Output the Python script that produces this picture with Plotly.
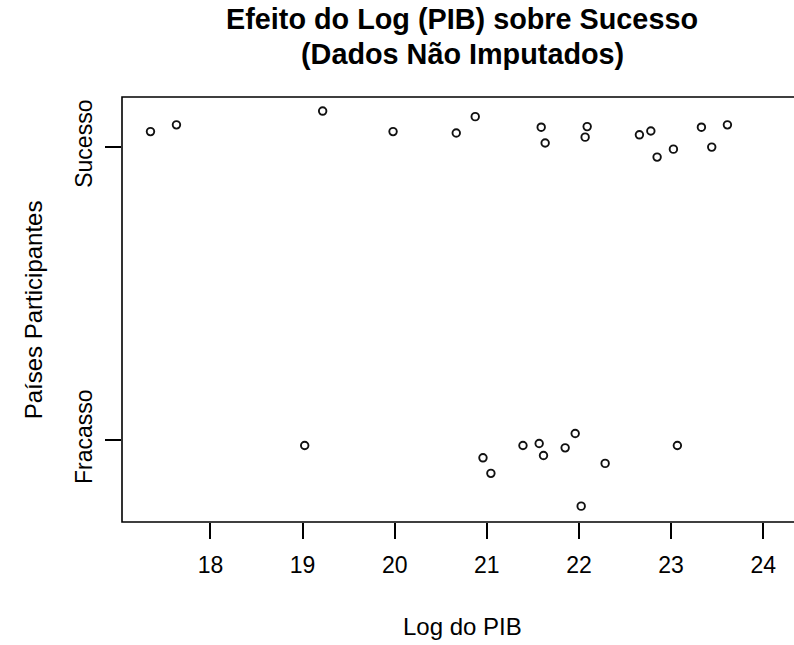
import plotly.graph_objects as go

# Log do PIB e posição vertical (0 = Fracasso, 1 = Sucesso, com jitter) de cada país
log_pib_sucesso = [17.349, 17.631, 19.218, 19.982, 20.668, 20.874, 21.590, 21.633,
                   22.089, 22.067, 22.656, 22.780, 22.848, 23.025, 23.329, 23.441, 23.611]
y_sucesso = [1.053, 1.076, 1.123, 1.053, 1.048, 1.104, 1.068, 1.014,
             1.070, 1.034, 1.042, 1.055, 0.966, 0.993, 1.068, 1.000, 1.076]

log_pib_fracasso = [19.023, 20.958, 21.044, 21.392, 21.568, 21.615, 21.850,
                    21.959, 22.284, 22.024, 23.068]
y_fracasso = [-0.018, -0.060, -0.113, -0.018, -0.011, -0.052, -0.026,
              0.023, -0.079, -0.225, -0.018]

x_ticks = [18, 19, 20, 21, 22, 23, 24]
y_ticks = [0, 1]
y_tick_labels = ["Fracasso", "Sucesso"]

titulo = ["Efeito do Log (PIB) sobre Sucesso", "(Dados Não Imputados)"]
rotulo_x = "Log do PIB"
rotulo_y = "Países Participantes"

FONT = "Liberation Sans, Arial, sans-serif"
W, H = 794, 645
ML, MR, MT, MB = 121.5, 0, 97, 122.5
PW, PH = W - ML - MR, H - MT - MB


def px_x(px):
    return (px - ML) / PW


def px_y(py):
    return (H - MB - py) / PH


fig = go.Figure()
marker = dict(symbol="circle-open", size=7.5, color="#111111", line=dict(width=1.9, color="#111111"))
fig.add_trace(go.Scatter(x=log_pib_sucesso + log_pib_fracasso,
                         y=y_sucesso + y_fracasso,
                         mode="markers", marker=marker, showlegend=False,
                         hoverinfo="x"))

fig.update_layout(
    width=W, height=H,
    margin=dict(l=ML, r=MR, t=MT, b=MB, pad=0),
    plot_bgcolor="white", paper_bgcolor="white",
    font=dict(family=FONT, color="black", size=24),
)

fig.update_xaxes(
    range=[17.04, 17.04 + PW / 92.2],
    tickvals=x_ticks, ticktext=[str(v) for v in x_ticks],
    ticks="outside", ticklen=16, tickwidth=1.5, tickcolor="black",
    showline=False, showgrid=False, zeroline=False,
    tickfont=dict(size=23, family=FONT), ticklabelstandoff=6,
)
fig.update_yaxes(
    range=[-0.279, 1.171],
    tickvals=y_ticks, ticktext=y_tick_labels, tickangle=-90,
    ticks="outside", ticklen=16, tickwidth=1.5, tickcolor="black",
    showline=False, showgrid=False, zeroline=False,
    tickfont=dict(size=23, family=FONT), ticklabelstandoff=4,
)

# Moldura do gráfico (o lado direito fica fora da área visível)
fig.add_shape(type="rect", xref="paper", yref="paper", x0=0, x1=1.1, y0=0, y1=1,
              line=dict(color="black", width=1.6), layer="above")

fig.add_annotation(text=f"<b>{titulo[0]}</b>", x=px_x(462), y=px_y(19), xref="paper", yref="paper",
                   showarrow=False, xanchor="center", yanchor="middle",
                   font=dict(size=28.8, family=FONT))
fig.add_annotation(text=f"<b>{titulo[1]}</b>", x=px_x(462), y=px_y(54), xref="paper", yref="paper",
                   showarrow=False, xanchor="center", yanchor="middle",
                   font=dict(size=28.8, family=FONT))
fig.add_annotation(text=rotulo_x, x=px_x(462), y=px_y(627), xref="paper", yref="paper",
                   showarrow=False, xanchor="center", yanchor="middle",
                   font=dict(size=24, family=FONT))
fig.add_annotation(text=rotulo_y, x=px_x(33), y=px_y(310), xref="paper", yref="paper",
                   showarrow=False, xanchor="center", yanchor="middle", textangle=-90,
                   font=dict(size=24, family=FONT))

fig.write_html("out.html")
